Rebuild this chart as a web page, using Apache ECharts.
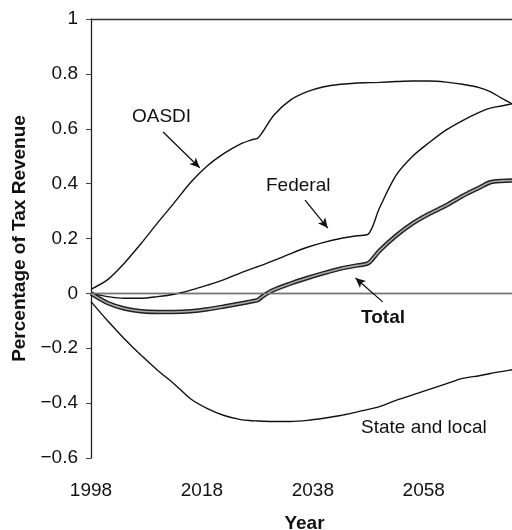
<!DOCTYPE html>
<html>
<head>
<meta charset="utf-8">
<script src="https://cdn.jsdelivr.net/npm/echarts@6/dist/echarts.min.js"></script>
<style>html,body{margin:0;padding:0;background:#fff}#c{width:512px;height:530px}</style>
</head>
<body>
<div id="c"></div>
<script>
const years = [1998,2001,2004,2007,2010,2013,2016,2019,2022,2025,2027,2028,2029,2031,2034,2037,2040,2043,2046,2048,2050,2053,2056,2059,2062,2065,2068,2070,2072,2075];
const oasdi = [0.015,0.05,0.11,0.181,0.257,0.33,0.405,0.465,0.51,0.545,0.56,0.565,0.59,0.65,0.705,0.735,0.753,0.762,0.767,0.768,0.769,0.772,0.774,0.774,0.770,0.762,0.75,0.735,0.712,0.68];
const federal = [0,-0.012,-0.018,-0.018,-0.012,-0.003,0.012,0.03,0.05,0.075,0.09,0.097,0.104,0.12,0.145,0.168,0.186,0.2,0.21,0.216,0.31,0.43,0.5,0.55,0.595,0.63,0.66,0.675,0.683,0.695];
const total = [0,-0.035,-0.055,-0.065,-0.068,-0.068,-0.065,-0.058,-0.048,-0.037,-0.029,-0.025,-0.01,0.013,0.036,0.056,0.074,0.09,0.102,0.11,0.155,0.21,0.255,0.29,0.32,0.355,0.385,0.405,0.41,0.412];
const stateLocal = [-0.03,-0.10,-0.165,-0.225,-0.28,-0.33,-0.385,-0.42,-0.445,-0.46,-0.464,-0.465,-0.466,-0.467,-0.467,-0.463,-0.455,-0.445,-0.432,-0.423,-0.413,-0.39,-0.37,-0.35,-0.33,-0.31,-0.30,-0.292,-0.285,-0.275];
const yTicks = [-0.6,-0.4,-0.2,0,0.2,0.4,0.6,0.8,1];
const xTicks = [1998,2018,2038,2058];
// annotation arrows [fromYear, fromVal, toYear, toVal]
const arrowOASDI = [2011.0,0.588,2017.6,0.458];
const arrowFederal = [2036.6,0.34,2040.7,0.238];
const arrowTotal = [2050.6,-0.031,2045.7,0.056];

const pairs = arr => years.map((y,i)=>[y,arr[i]]);
const FONT = '"Liberation Sans", Arial, sans-serif';
const arrowLine = a => [{coord:[a[0],a[1]]},{coord:[a[2],a[3]]}];
const SM = 0.3;

const chart = echarts.init(document.getElementById('c'));
chart.setOption({
  animation:false,
  grid:{left:91, top:19, bottom:72, right:-6, containLabel:false, outerBoundsMode:'none'},
  xAxis:[{
    type:'value', min:1998, max:2075, interval:20,
    axisLine:{show:true, lineStyle:{color:'#222', width:1.3}},
    axisTick:{show:false}, splitLine:{show:false},
    axisLabel:{fontFamily:FONT, fontSize:19, color:'#111', margin:23, showMaxLabel:false,
      formatter:v => xTicks.includes(v) ? String(v) : ''},
    name:'Year', nameLocation:'middle', nameGap:56,
    nameTextStyle:{fontFamily:FONT, fontSize:19, fontWeight:'bold', color:'#111'}
  },{
    type:'value', position:'top', min:1998, max:2075,
    axisLine:{show:true, onZero:false, lineStyle:{color:'#333', width:1.3}},
    axisTick:{show:false}, axisLabel:{show:false}, splitLine:{show:false}
  }],
  yAxis:{
    type:'value', min:-0.6, max:1, interval:0.2,
    axisLine:{show:true, lineStyle:{color:'#222', width:1.3}},
    axisTick:{show:true, length:5, lineStyle:{color:'#444'}},
    splitLine:{show:false},
    axisLabel:{fontFamily:FONT, fontSize:19, color:'#111', margin:13,
      formatter:v => { const r = Math.round(v*10)/10; return r < 0 ? '\u2212' + String(-r) : String(r); }},
    name:'Percentage of Tax Revenue', nameLocation:'middle', nameGap:62,
    nameTextStyle:{fontFamily:FONT, fontSize:19, fontWeight:'bold', color:'#111'}
  },
  series:[
    {type:'line', data:pairs(stateLocal), smooth:SM, showSymbol:false, lineStyle:{color:'#111', width:1.4}, silent:true,
     markLine:{silent:true, symbol:['none','none'], label:{show:false}, lineStyle:{color:'#777', width:1.2, type:'solid'}, data:[{yAxis:0}]}},
    {type:'line', data:pairs(oasdi), smooth:SM, showSymbol:false, lineStyle:{color:'#111', width:1.4}, silent:true,
     markLine:{silent:true, symbol:['none','arrow'], symbolSize:[7,10], label:{show:false}, lineStyle:{color:'#111', width:1.3, type:'solid'}, data:[arrowLine(arrowOASDI), arrowLine(arrowFederal), arrowLine(arrowTotal)]}},
    {type:'line', data:pairs(federal), smooth:SM, showSymbol:false, lineStyle:{color:'#111', width:1.4}, silent:true},
    {type:'line', data:pairs(total), smooth:SM, showSymbol:false, lineStyle:{color:'#222', width:4.5}, silent:true},
    {type:'line', data:pairs(total), smooth:SM, showSymbol:false, lineStyle:{color:'#aaa', width:1.6}, silent:true}
  ],
  graphic:[
    {type:'text', left:132, top:107, style:{text:'OASDI', font:'19px '+FONT, fill:'#111'}},
    {type:'text', left:266, top:176, style:{text:'Federal', font:'19px '+FONT, fill:'#111'}},
    {type:'text', left:361, top:308, style:{text:'Total', font:'bold 19px '+FONT, fill:'#111'}},
    {type:'text', left:361, top:418, style:{text:'State and local', font:'19px '+FONT, fill:'#111'}}
  ]
});
</script>
</body>
</html>
